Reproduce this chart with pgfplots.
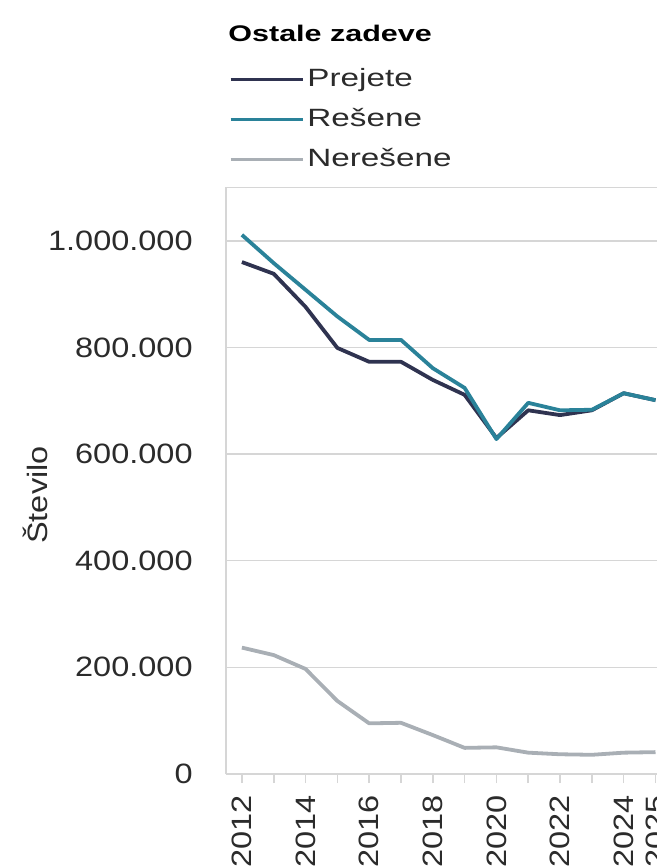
\documentclass[border=0pt]{standalone}
\usepackage{fontspec}
\setmainfont{Liberation Sans}[FakeStretch=1.16]
\newfontfamily\legfont{Liberation Sans}[FakeStretch=1.33]
\newfontfamily\titlefont{Liberation Sans}[FakeStretch=1.35]
\usepackage{pgfplots}
\pgfplotsset{compat=1.18}
\definecolor{prejete}{HTML}{2F3350}
\definecolor{resene}{HTML}{2A8299}
\definecolor{neresene}{HTML}{A9AFB5}
\definecolor{gridc}{HTML}{D6D6D6}
\definecolor{txt}{HTML}{2B2B2B}
\begin{document}
\begin{tikzpicture}
\useasboundingbox (0,0) rectangle (328.5pt,433.5pt);
\clip (0,0) rectangle (328.5pt,433.5pt);
\begin{axis}[
  name=ax,
  at={(113pt,46.5pt)}, anchor=south west,
  scale only axis,
  width=222.7pt, height=293.3pt,
  xmin=2011.5, xmax=2025.5,
  ymin=0, ymax=1100000,
  axis x line*=bottom, axis y line*=left,
  axis line style={gridc, line width=0.8pt},
  xtick={2012,...,2025},
  xticklabels={2012,,2014,,2016,,2018,,2020,,2022,,2024,2025},
  xtick align=outside,
  major tick length=4.5pt,
  x tick style={gridc, line width=0.8pt},
  xticklabel style={yshift=-6pt, rotate=90, anchor=east, inner sep=0pt,
    font=\fontsize{14}{16}\selectfont, text=txt},
  ytick={0,200000,400000,600000,800000,1000000,1100000},
  yticklabels={0,200.000,400.000,600.000,800.000,1.000.000,},
  y tick style={draw=none},
  ymajorgrids,
  grid style={gridc, line width=0.8pt},
  scaled y ticks=false,
  yticklabel style={inner sep=0pt, xshift=-16.5pt,
    font=\fontsize{14}{16}\selectfont, text=txt},
  legend style={at={(0.005,1.205)}, anchor=north west, draw=none, fill=none,
    inner sep=0pt, row sep=8pt, column sep=1.5pt,
    nodes={inner sep=0pt, text height=9.5pt, text depth=2.5pt, text=txt,
      font=\legfont\fontsize{12.5}{14}\selectfont}},
  legend cell align=left,
  legend image code/.code={\draw[#1] (0pt,0pt) -- (36pt,0pt);},
  every axis plot/.append style={line width=1.9pt, line join=round},
]
\addplot[prejete] coordinates {
  (2012,960000) (2013,938000) (2014,876000) (2015,799000) (2016,773000)
  (2017,773000) (2018,739000) (2019,711000) (2020,630000) (2021,682000)
  (2022,673000) (2023,682000) (2024,714000) (2025,701000)
};
\addplot[resene] coordinates {
  (2012,1011000) (2013,958000) (2014,908000) (2015,858000) (2016,814000)
  (2017,814000) (2018,761000) (2019,724000) (2020,628000) (2021,696000)
  (2022,682000) (2023,683000) (2024,714000) (2025,701000)
};
\addplot[neresene] coordinates {
  (2012,237000) (2013,223000) (2014,197000) (2015,137000) (2016,95000)
  (2017,96000) (2018,73000) (2019,49000) (2020,50000) (2021,40000)
  (2022,37000) (2023,36000) (2024,40000) (2025,41000)
};
\legend{Prejete,Rešene,Nerešene}
\end{axis}
\draw[gridc, line width=0.8pt] (ax.north west) -- (ax.north east);
\node[anchor=west, inner sep=0pt, text=black] at (114pt,417pt)
  {\titlefont\bfseries\fontsize{11.3}{13}\selectfont Ostale zadeve};
\node[rotate=90, inner sep=0pt, text=txt] at (17.5pt,186pt)
  {\fontsize{14}{16}\selectfont Število};
\end{tikzpicture}
\end{document}
